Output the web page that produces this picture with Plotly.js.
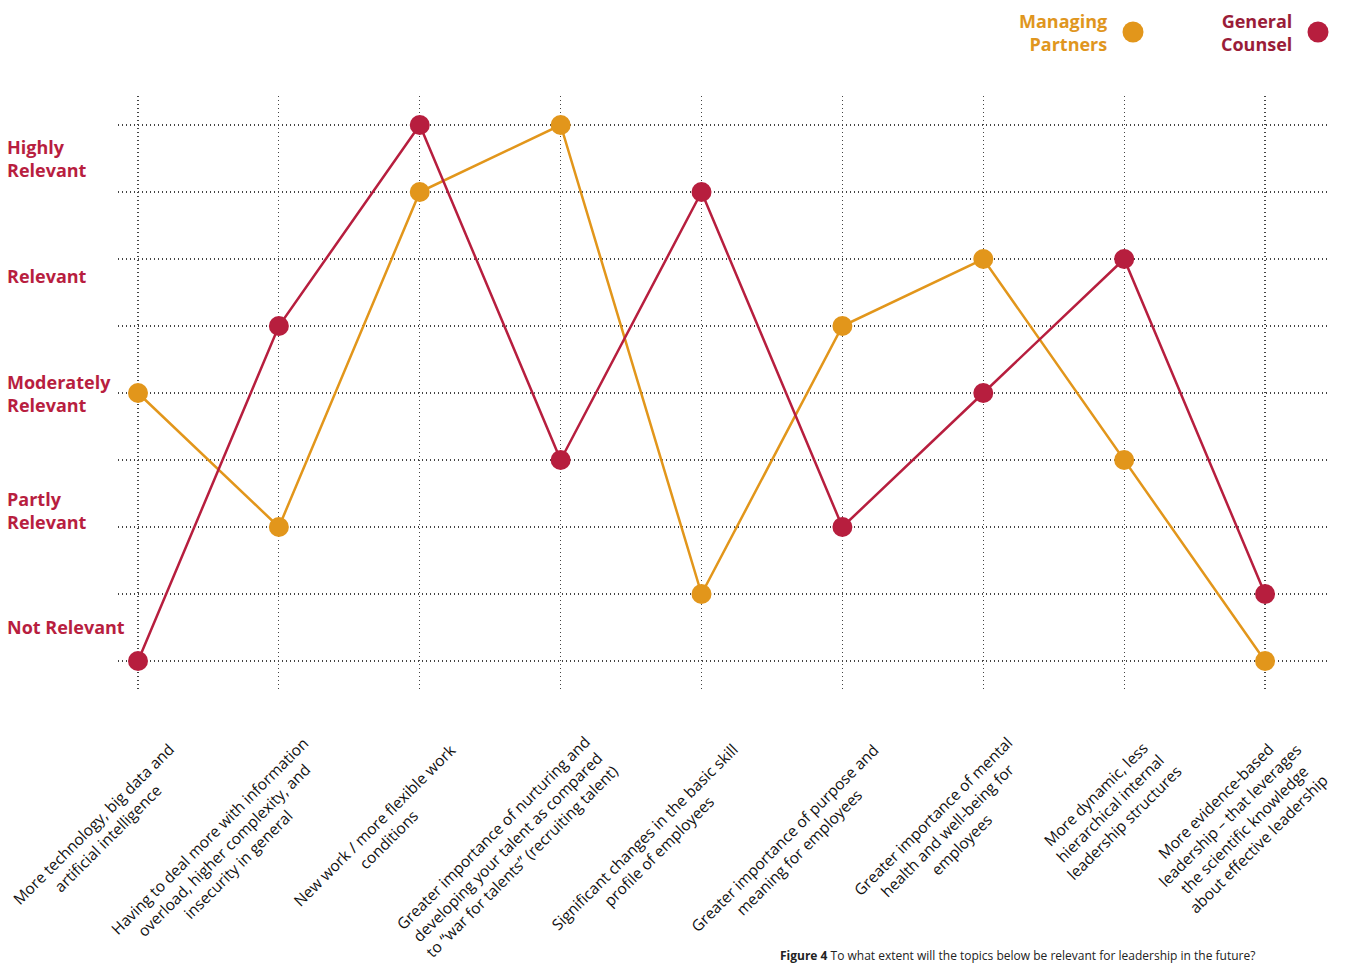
<!DOCTYPE html>
<html>
<head>
<meta charset="utf-8">
<script src="https://cdn.plot.ly/plotly-3.0.1.min.js"></script>
<style>html,body{margin:0;padding:0;background:#fff;}#chart{width:1353px;height:963px;}</style>
</head>
<body>
<div id="chart"></div>
<script>
const categories = [
  'More technology, big data and<br>artificial intelligence',
  'Having to deal more with information<br>overload, higher complexity, and<br>insecurity in general',
  'New work / more flexible work<br>conditions',
  'Greater importance of nurturing and<br>developing your talent as compared<br>to “war for talents” (recruiting talent)',
  'Significant changes in the basic skill<br>profile of employees',
  'Greater importance of purpose and<br>meaning for employees',
  'Greater importance of mental<br>health and well-being for<br>employees',
  'More dynamic, less<br>hierarchical internal<br>leadership structures',
  'More evidence-based<br>leadership – that leverages<br>the scientific knowledge<br>about effective leadership'
];
const managingPartners = [4, 2, 7, 8, 1, 5, 6, 3, 0];
const generalCounsel   = [0, 5, 8, 3, 7, 2, 4, 6, 1];
const levelLabels = ['Highly<br>Relevant', 'Relevant', 'Moderately<br>Relevant', 'Partly<br>Relevant', 'Not Relevant'];
const levelPositions = [7.5, 5.75, 4, 2.25, 0.5];
const seriesNames = ['Managing<br>Partners', 'General<br>Counsel'];

const MP_COLOR = '#E2961B';
const GC_COLOR = '#B71E3E';
const MP_TEXT = '#E0961E';
const GC_TEXT = '#9A1C38';
const LABEL_RED = '#B81E3F';

const W = 1353, H = 963;
const M = {l: 118, r: 23, t: 96, b: 273};
const plotW = W - M.l - M.r, plotH = H - M.t - M.b;
const px2paperX = p => (p - M.l) / plotW;
const px2paperY = p => (H - M.b - p) / plotH;

const idx = categories.map((_, i) => i);

const traces = [
  {x: idx, y: managingPartners, type: 'scatter', mode: 'lines+markers', name: 'Managing Partners',
   line: {color: MP_COLOR, width: 2.5}, marker: {color: MP_COLOR, size: 20}, cliponaxis: false, hoverinfo: 'skip'},
  {x: idx, y: generalCounsel, type: 'scatter', mode: 'lines+markers', name: 'General Counsel',
   line: {color: GC_COLOR, width: 2.5}, marker: {color: GC_COLOR, size: 20}, cliponaxis: false, hoverinfo: 'skip'}
];

const annotations = [];
const LINE_H = 16 * 1.3;
categories.forEach((c, i) => {
  const n = c.split('<br>').length;
  const s = 0.707 * n * LINE_H / 2;
  annotations.push({
    x: i, xref: 'x', y: 0, yref: 'paper',
    text: c, showarrow: false, textangle: -45, align: 'center',
    xanchor: 'right', yanchor: 'top',
    xshift: 43 + s, yshift: -(751 - (H - M.b)) + s,
    font: {family: 'Open Sans, sans-serif', size: 15.5, color: '#111'}
  });
});
levelLabels.forEach((t, i) => {
  annotations.push({
    x: px2paperX(5), xref: 'paper', y: levelPositions[i], yref: 'y',
    text: t, showarrow: false, xanchor: 'left', yanchor: 'middle', align: 'left',
    font: {family: 'Open Sans, sans-serif', size: 18, weight: 'bold', color: LABEL_RED}
  });
});
// legend texts
annotations.push({
  x: px2paperX(1109), xref: 'paper', y: px2paperY(32), yref: 'paper',
  text: seriesNames[0], showarrow: false, xanchor: 'right', yanchor: 'middle', align: 'right',
  font: {family: 'Open Sans, sans-serif', size: 18, weight: 'bold', color: MP_TEXT}
});
annotations.push({
  x: px2paperX(1294), xref: 'paper', y: px2paperY(32), yref: 'paper',
  text: seriesNames[1], showarrow: false, xanchor: 'right', yanchor: 'middle', align: 'right',
  font: {family: 'Open Sans, sans-serif', size: 18, weight: 'bold', color: GC_TEXT}
});
// caption at the bottom edge
annotations.push({
  x: px2paperX(778), xref: 'paper', y: px2paperY(945), yref: 'paper',
  text: '<b>Figure 4</b> To what extent will the topics below be relevant for leadership in the future?',
  showarrow: false, xanchor: 'left', yanchor: 'top', align: 'left',
  font: {family: 'Open Sans, sans-serif', size: 12, color: '#222'}
});

const shapes = [
  {type: 'circle', xref: 'paper', yref: 'paper', xsizemode: 'pixel', ysizemode: 'pixel',
   xanchor: px2paperX(1133), yanchor: px2paperY(32), x0: -10.5, x1: 10.5, y0: -10.5, y1: 10.5,
   fillcolor: MP_COLOR, line: {width: 0}},
  {type: 'circle', xref: 'paper', yref: 'paper', xsizemode: 'pixel', ysizemode: 'pixel',
   xanchor: px2paperX(1318), yanchor: px2paperY(32), x0: -10.5, x1: 10.5, y0: -10.5, y1: 10.5,
   fillcolor: GC_COLOR, line: {width: 0}}
];

const layout = {
  width: W, height: H,
  margin: M,
  paper_bgcolor: '#fff', plot_bgcolor: '#fff',
  showlegend: false,
  xaxis: {range: [-0.142, 8.461], tick0: 0, dtick: 1, showticklabels: false, ticks: '',
          showgrid: true, gridcolor: '#444', gridwidth: 1.2, griddash: '1px,3px',
          zeroline: false, showline: false, fixedrange: true},
  yaxis: {range: [-0.433, 8.433], tick0: 0, dtick: 1, showticklabels: false, ticks: '',
          showgrid: true, gridcolor: '#444', gridwidth: 1.2, griddash: '1px,3px',
          zeroline: false, showline: false, fixedrange: true},
  annotations: annotations,
  shapes: shapes
};

Plotly.newPlot('chart', traces, layout, {displayModeBar: false, staticPlot: true});
</script>
</body>
</html>
